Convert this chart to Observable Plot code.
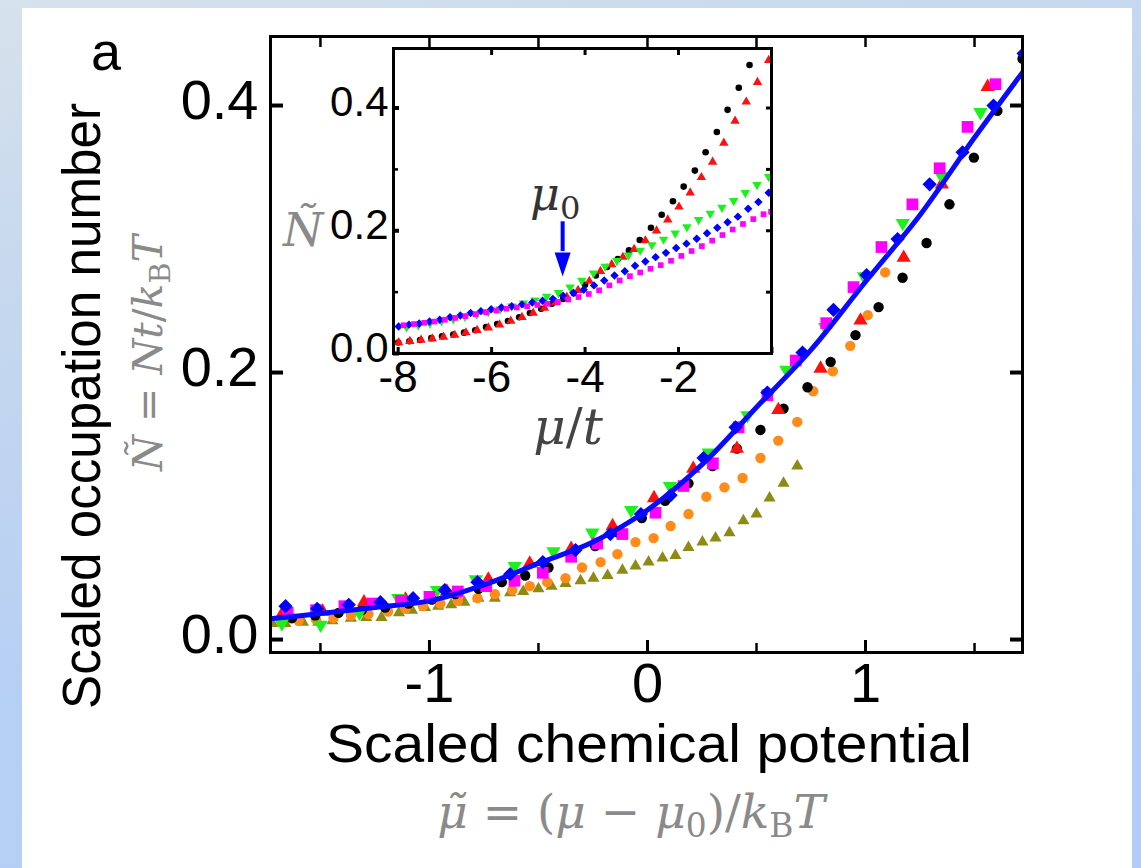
<!DOCTYPE html>
<html><head><meta charset="utf-8">
<script src="https://cdn.jsdelivr.net/npm/d3@7"></script>
<script src="https://cdn.jsdelivr.net/npm/@observablehq/plot@0.6"></script>
<style>
html,body{margin:0;padding:0;}
body{width:1141px;height:868px;position:relative;overflow:hidden;background:linear-gradient(165deg,#d6e2ec 0%,#c6d8ee 25%,#b6cff4 60%,#b3cdf7 100%);}
#panel{position:absolute;left:22px;top:8px;width:1110px;height:860px;background:#fff;}
#main{position:absolute;left:22px;top:8px;}
#inset{position:absolute;left:323px;top:38px;}
#overlay{position:absolute;left:0;top:0;}
</style></head><body>
<div id="panel"></div><div id="main"></div><div id="inset"></div>
<svg id="overlay" width="1141" height="868"></svg>
<script>
// ---------- main panel data: [scaled chemical potential, scaled occupation] ----------
const mainBlack = [[-1.631,0.016],[-1.524,0.018],[-1.417,0.020],[-1.31,0.022],[-1.203,0.024],[-1.096,0.027],[-0.989,0.030],[-0.882,0.034],[-0.775,0.038],[-0.668,0.043],[-0.561,0.048],[-0.454,0.054],[-0.347,0.062],[-0.24,0.070],[-0.133,0.080],[-0.026,0.091],[0.081,0.104],[0.188,0.117],[0.298,0.130],[0.41,0.143],[0.518,0.157],[0.624,0.173],[0.734,0.189],[0.84,0.208],[0.954,0.228],[1.06,0.249],[1.17,0.271],[1.28,0.297],[1.385,0.326],[1.497,0.361],[1.605,0.396],[1.72,0.435]];
const mainRed = [[-1.68,0.018],[-1.49,0.021],[-1.30,0.028],[-1.11,0.030],[-0.92,0.036],[-0.73,0.045],[-0.54,0.057],[-0.35,0.068],[-0.16,0.085],[0.03,0.106],[0.21,0.128],[0.41,0.143],[0.60,0.172],[0.794,0.203],[0.977,0.239],[1.175,0.286],[1.35,0.341],[1.56,0.414]];
const mainGreen = [[-1.677,0.012],[-1.499,0.011],[-1.321,0.020],[-1.143,0.031],[-0.965,0.037],[-0.787,0.045],[-0.609,0.055],[-0.431,0.066],[-0.253,0.080],[-0.075,0.097],[0.103,0.115],[0.281,0.140],[0.459,0.168],[0.637,0.202],[0.815,0.234],[0.993,0.272],[1.171,0.312],[1.349,0.347],[1.527,0.395]];
const mainMagenta = [[-1.65,0.020],[-1.52,0.022],[-1.39,0.025],[-1.26,0.027],[-1.13,0.029],[-1.0,0.032],[-0.87,0.036],[-0.74,0.040],[-0.61,0.044],[-0.48,0.050],[-0.35,0.062],[-0.23,0.072],[-0.115,0.079],[0.037,0.095],[0.165,0.115],[0.30,0.132],[0.418,0.159],[0.55,0.183],[0.68,0.209],[0.82,0.237],[0.945,0.264],[1.073,0.294],[1.215,0.326],[1.34,0.353],[1.468,0.384],[1.596,0.416]];
const mainBlue = [[-1.66,0.025],[-1.515,0.023],[-1.37,0.026],[-1.225,0.028],[-1.075,0.031],[-0.93,0.037],[-0.78,0.043],[-0.63,0.049],[-0.48,0.058],[-0.33,0.067],[-0.17,0.079],[-0.03,0.094],[0.106,0.108],[0.257,0.136],[0.404,0.159],[0.55,0.185],[0.711,0.215],[0.853,0.247],[1.005,0.273],[1.147,0.300],[1.294,0.341],[1.445,0.365],[1.587,0.400],[1.725,0.439]];
const mainOrange = [[-1.68,0.013],[-1.60,0.014],[-1.52,0.015],[-1.44,0.016],[-1.36,0.018],[-1.28,0.019],[-1.19,0.021],[-1.11,0.023],[-1.03,0.025],[-0.95,0.027],[-0.87,0.029],[-0.78,0.031],[-0.70,0.034],[-0.62,0.037],[-0.54,0.040],[-0.46,0.043],[-0.376,0.046],[-0.30,0.054],[-0.215,0.058],[-0.138,0.064],[-0.055,0.073],[0.028,0.076],[0.106,0.085],[0.188,0.094],[0.27,0.107],[0.353,0.114],[0.436,0.121],[0.518,0.136],[0.60,0.149],[0.687,0.163],[0.76,0.186],[0.85,0.201],[0.93,0.220],[1.01,0.243],[1.09,0.275]];
const mainOlive = [[-1.72,0.012],[-1.66,0.012],[-1.58,0.013],[-1.51,0.013],[-1.445,0.014],[-1.36,0.016],[-1.29,0.0165],[-1.22,0.0165],[-1.14,0.020],[-1.08,0.022],[-1.02,0.024],[-0.96,0.025],[-0.90,0.026],[-0.84,0.028],[-0.775,0.031],[-0.70,0.031],[-0.63,0.035],[-0.57,0.036],[-0.50,0.038],[-0.44,0.040],[-0.376,0.042],[-0.307,0.044],[-0.248,0.046],[-0.183,0.048],[-0.115,0.052],[-0.055,0.055],[0.005,0.058],[0.069,0.061],[0.128,0.063],[0.188,0.069],[0.252,0.073],[0.312,0.076],[0.376,0.080],[0.44,0.089],[0.50,0.094],[0.56,0.106],[0.624,0.117],[0.687,0.130]];
const theory = [[-1.73,0.0155],[-1.5,0.0195],[-1.25,0.024],[-1.0,0.029],[-0.75,0.041],[-0.5,0.057],[-0.25,0.073],[0.0,0.097],[0.25,0.131],[0.5,0.174],[0.75,0.217],[1.0,0.268],[1.25,0.318],[1.5,0.376],[1.73,0.427]];
const mainXTicks = [-1, 0, 1];
const mainXMinor = [-1.5, -0.5, 0.5, 1.5];
const mainYTicks = [0, 0.2, 0.4];

// ---------- inset data: [mu/t, N tilde] ----------
const inBlack = [[-8.0,0.018],[-7.76,0.020],[-7.53,0.022],[-7.29,0.025],[-7.06,0.028],[-6.82,0.031],[-6.59,0.034],[-6.35,0.038],[-6.12,0.043],[-5.88,0.048],[-5.65,0.053],[-5.41,0.059],[-5.18,0.066],[-4.94,0.073],[-4.71,0.081],[-4.47,0.089],[-4.24,0.098],[-4.0,0.112],[-3.77,0.127],[-3.53,0.141],[-3.30,0.154],[-3.06,0.168],[-2.83,0.185],[-2.59,0.205],[-2.36,0.226],[-2.12,0.248],[-1.89,0.272],[-1.65,0.298],[-1.42,0.328],[-1.18,0.361],[-0.95,0.397],[-0.71,0.433],[-0.48,0.470]];
const inRed = [[-7.99,0.018],[-7.75,0.020],[-7.51,0.022],[-7.27,0.024],[-7.03,0.027],[-6.79,0.030],[-6.55,0.034],[-6.31,0.038],[-6.07,0.042],[-5.83,0.047],[-5.59,0.053],[-5.35,0.059],[-5.11,0.066],[-4.87,0.074],[-4.63,0.083],[-4.39,0.092],[-4.15,0.103],[-3.91,0.118],[-3.67,0.134],[-3.43,0.145],[-3.19,0.157],[-2.95,0.170],[-2.71,0.184],[-2.47,0.200],[-2.23,0.218],[-1.99,0.239],[-1.75,0.262],[-1.51,0.287],[-1.27,0.312],[-1.03,0.343],[-0.79,0.379],[-0.55,0.410],[-0.31,0.442],[-0.07,0.478]];
const inGreen = [[-7.82,0.043],[-7.57,0.046],[-7.32,0.049],[-7.07,0.053],[-6.82,0.056],[-6.57,0.060],[-6.32,0.064],[-6.07,0.068],[-5.82,0.072],[-5.57,0.077],[-5.32,0.082],[-5.07,0.087],[-4.82,0.093],[-4.57,0.099],[-4.32,0.108],[-4.07,0.119],[-3.82,0.131],[-3.57,0.142],[-3.32,0.151],[-3.07,0.160],[-2.82,0.168],[-2.57,0.177],[-2.32,0.186],[-2.07,0.196],[-1.82,0.206],[-1.57,0.218],[-1.32,0.228],[-1.07,0.238],[-0.82,0.249],[-0.57,0.262],[-0.32,0.275],[-0.07,0.288]];
const inBlue = [[-7.99,0.044],[-7.77,0.047],[-7.55,0.049],[-7.33,0.052],[-7.11,0.055],[-6.89,0.059],[-6.67,0.062],[-6.45,0.066],[-6.23,0.069],[-6.01,0.072],[-5.79,0.075],[-5.57,0.077],[-5.35,0.080],[-5.13,0.083],[-4.91,0.086],[-4.69,0.089],[-4.47,0.094],[-4.25,0.099],[-4.03,0.104],[-3.81,0.111],[-3.59,0.119],[-3.37,0.127],[-3.15,0.134],[-2.93,0.143],[-2.71,0.150],[-2.49,0.157],[-2.27,0.164],[-2.05,0.172],[-1.83,0.179],[-1.61,0.187],[-1.39,0.196],[-1.17,0.205],[-0.95,0.214],[-0.73,0.223],[-0.51,0.236],[-0.29,0.247],[-0.07,0.262]];
const inMagenta = [[-7.88,0.046],[-7.66,0.048],[-7.44,0.050],[-7.22,0.052],[-7.0,0.055],[-6.78,0.058],[-6.56,0.061],[-6.34,0.064],[-6.12,0.067],[-5.90,0.070],[-5.68,0.073],[-5.46,0.075],[-5.24,0.077],[-5.02,0.079],[-4.80,0.081],[-4.58,0.084],[-4.36,0.088],[-4.14,0.092],[-3.92,0.097],[-3.70,0.103],[-3.48,0.111],[-3.26,0.119],[-3.04,0.126],[-2.82,0.132],[-2.60,0.138],[-2.38,0.144],[-2.16,0.151],[-1.94,0.159],[-1.72,0.167],[-1.50,0.175],[-1.28,0.184],[-1.06,0.193],[-0.84,0.202],[-0.62,0.211],[-0.40,0.219],[-0.18,0.227],[-0.02,0.231]];
const mu0Arrow = [{mu: -4.48, top: 0.2146, head: 0.166, tip: 0.145}];
const inXTicks = [-8, -6, -4, -2, 0];
const inXTop = [-6, -4, -2];
const inYTicks = [0, 0.2, 0.4];
const inYMinor = [0.1, 0.3];

const C = {black:"#000000", red:"#ff1010", green:"#1ef01e", blue:"#0000ff", magenta:"#ff00ff", orange:"#ff8c1a", olive:"#8c8c14"};
const SANS = "Liberation Sans, Arial, Helvetica, sans-serif";
const SERIF = "DejaVu Serif, Liberation Serif, serif";

function pts(data, symbol, fill, r, rotate = 0) {
  return Plot.dot(data, {x: d => d[0], y: d => d[1], symbol, fill, r, rotate, clip: true});
}
const headDown = {draw(ctx) { ctx.moveTo(-8, -12); ctx.lineTo(8, -12); ctx.lineTo(0, 12); ctx.closePath(); }};

const main = Plot.plot({
  width: 1110, height: 860,
  marginLeft: 248, marginRight: 110, marginTop: 28, marginBottom: 216,
  x: {domain: [-1.729, 1.72]},
  y: {domain: [-0.0097, 0.4517]},
  style: {fontFamily: SANS, fontSize: "56px", background: "transparent", overflow: "visible", color: "black"},
  marks: [
    pts(mainOlive, "triangle", C.olive, 4.5),
    pts(mainOrange, "circle", C.orange, 5.2),
    pts(mainBlack, "circle", C.black, 5.2),
    pts(mainRed, "triangle", C.red, 5.3),
    pts(mainGreen, "triangle", C.green, 5.3, 180),
    pts(mainMagenta, "square", C.magenta, 6.6),
    pts(mainBlue, "diamond2", C.blue, 6.4),
    Plot.line(theory, {x: d => d[0], y: d => d[1], stroke: "#0a0aff", strokeWidth: 5, curve: "catmull-rom", clip: true}),
    Plot.axisX({anchor: "bottom", ticks: mainXTicks, tickSize: -12, tickPadding: 22, strokeWidth: 3, fontSize: 56, tickFormat: d => String(d), label: null}),
    Plot.axisX({anchor: "bottom", ticks: mainXMinor, tickSize: -9, strokeWidth: 2.5, tickFormat: () => "", label: null}),
    Plot.axisX({anchor: "top", ticks: mainXTicks.concat(mainXMinor), tickSize: -10, strokeWidth: 2.5, tickFormat: () => "", label: null}),
    Plot.axisY({anchor: "left", ticks: mainYTicks, tickSize: -13, strokeWidth: 4, tickFormat: () => "", label: null}),
    Plot.axisY({anchor: "left", ticks: mainYTicks, tickSize: 0, tickPadding: 12, dy: -4, fontSize: 56, tickFormat: d => d.toFixed(1), label: null}),
    Plot.axisY({anchor: "right", ticks: mainYTicks, tickSize: -13, strokeWidth: 4, tickFormat: () => "", label: null}),
    Plot.frame({stroke: "black", strokeWidth: 3})
  ]
});
document.getElementById("main").appendChild(main);

const inset = Plot.plot({
  width: 458, height: 365,
  marginLeft: 70, marginRight: 10, marginTop: 10, marginBottom: 50,
  x: {domain: [-8.1, -0.01]},
  y: {domain: [0, 0.497]},
  style: {fontFamily: SANS, fontSize: "44px", background: "transparent", overflow: "visible", color: "black"},
  marks: [
    Plot.frame({fill: "white", stroke: "none"}),
    pts(inBlack, "circle", C.black, 3.3),
    pts(inRed, "triangle", C.red, 3.5),
    pts(inGreen, "triangle", C.green, 3.5, 180),
    pts(inBlue, "diamond2", C.blue, 3.8),
    pts(inMagenta, "square", C.magenta, 3.2),
    Plot.ruleX(mu0Arrow, {x: "mu", y1: "top", y2: "head", stroke: C.blue, strokeWidth: 4}),
    Plot.dot(mu0Arrow, {x: "mu", y: "tip", symbol: headDown, fill: C.blue}),
    Plot.axisX({anchor: "bottom", ticks: inXTicks, tickSize: -6, tickPadding: 13, strokeWidth: 3, fontSize: 44, tickFormat: d => d === 0 ? "" : String(d), label: null}),
    Plot.axisX({anchor: "top", ticks: inXTop, tickSize: -6, strokeWidth: 3, tickFormat: () => "", label: null}),
    Plot.axisY({anchor: "left", ticks: inYTicks, tickSize: -6, strokeWidth: 4, tickFormat: () => "", label: null}),
    Plot.axisY({anchor: "left", ticks: inYTicks, tickSize: 0, tickPadding: 5, dy: -5, fontSize: 42, tickFormat: d => d.toFixed(1), label: null}),
    Plot.axisY({anchor: "left", ticks: inYMinor, tickSize: -5, strokeWidth: 2.5, tickFormat: () => "", label: null}),
    Plot.axisY({anchor: "right", ticks: inYTicks.concat(inYMinor), tickSize: -6, strokeWidth: 3, tickFormat: () => "", label: null}),
    Plot.frame({stroke: "black", strokeWidth: 3})
  ]
});
document.getElementById("inset").appendChild(inset);

// ---------- titles and math labels ----------
const ov = d3.select("#overlay");
function addText(parts, {x, y, rotate = 0, size, family, fill, anchor = "middle", textLength, adjust = "spacingAndGlyphs"}) {
  const t = ov.append("text")
    .attr("transform", `translate(${x},${y}) rotate(${rotate})`)
    .attr("text-anchor", anchor).attr("font-size", size).attr("font-family", family).attr("fill", fill);
  if (textLength) t.attr("textLength", textLength).attr("lengthAdjust", adjust);
  let shifted = false;
  for (const [s, st] of parts) {
    const ts = t.append("tspan").text(s);
    if (st === "i") ts.attr("font-style", "italic");
    if (st === "sub") { ts.attr("font-size", size * 0.7).attr("dy", size * 0.2); shifted = true; }
    else if (shifted) { ts.attr("dy", -size * 0.2); shifted = false; }
  }
  return t;
}
addText([["a", "n"]], {x: 106, y: 70, size: 54, family: SANS, fill: "#000"});
addText([["Scaled occupation number", "n"]], {x: 100, y: 406, rotate: -90, size: 54, family: SANS, fill: "#000", textLength: 606});
addText([["Ñ", "i"], [" = ", "n"], ["Nt", "i"], ["/", "n"], ["k", "i"], ["B", "sub"], ["T", "i"]], {x: 162, y: 353, rotate: -90, size: 41, family: SERIF, fill: "#8a8a8a"});
addText([["Scaled chemical potential", "n"]], {x: 649, y: 762, size: 54, family: SANS, fill: "#000", textLength: 646});
addText([["μ̃", "i"], [" = (", "n"], ["μ", "i"], [" − ", "n"], ["μ", "i"], ["0", "sub"], [")/", "n"], ["k", "i"], ["B", "sub"], ["T", "i"]], {x: 631, y: 828, size: 47, family: SERIF, fill: "#8a8a8a"});
addText([["Ñ", "i"]], {x: 303, y: 246, size: 46, family: SERIF, fill: "#8a8a8a"});
addText([["μ", "i"], ["/", "n"], ["t", "i"]], {x: 568, y: 444, size: 50, family: SERIF, fill: "#444"});
addText([["μ", "i"], ["0", "sub"]], {x: 530, y: 210, size: 46, family: SERIF, fill: "#333", anchor: "start"});
</script></body></html>
